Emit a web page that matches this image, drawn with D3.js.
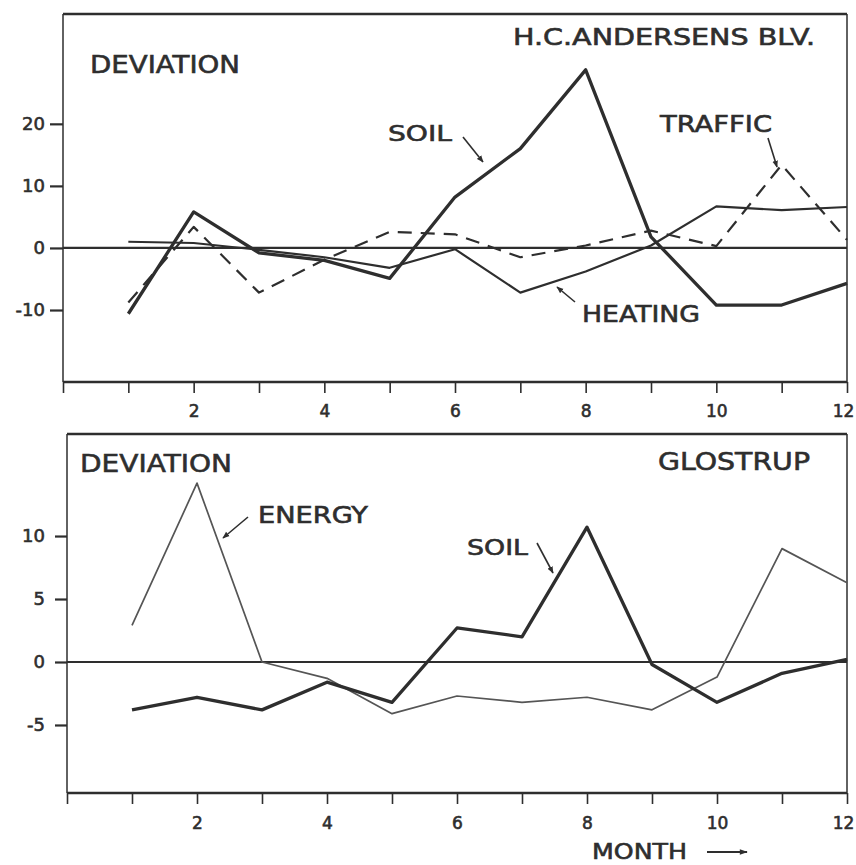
<!DOCTYPE html>
<html><head><meta charset="utf-8">
<script src="https://cdn.jsdelivr.net/npm/d3@7"></script>
<style>
body{margin:0;background:#fff;}
svg{display:block;}
text{font-family:"DejaVu Sans",sans-serif;fill:#2e2e2e;stroke:#2e2e2e;stroke-width:0.6;}
</style>
</head><body><svg id="c" width="856" height="865"></svg>
<script>
// ---- data ----
const months = [1,2,3,4,5,6,7,8,9,10,11,12];
const xTickValues = [0,1,2,3,4,5,6,7,8,9,10,11,12];
const xTickLabels = ["","","2","","4","","6","","8","","10","","12"];
const topYTicks = [-10,0,10,20];
const bottomYTicks = [-5,0,5,10];

// H.C. Andersens Blv.
const topSoil    = [-10.6, 5.8, -0.8, -2.0, -4.9, 8.2, 16.0, 28.7, 1.8, -9.2, -9.2, -5.7];
const topHeating = [1.0, 0.8, -0.3, -1.5, -3.2, -0.2, -7.2, -3.8, 0.4, 6.7, 6.1, 6.6];
const topTraffic = [-8.8, 3.4, -7.2, -1.9, 2.6, 2.2, -1.5, 0.4, 2.8, 0.3, 13.4, 1.3];

// Glostrup
const bottomEnergy = [2.9, 14.2, 0.0, -1.3, -4.1, -2.7, -3.2, -2.8, -3.8, -1.2, 9.0, 6.3];
const bottomSoil   = [-3.8, -2.8, -3.8, -1.6, -3.2, 2.7, 2.0, 10.7, -0.2, -3.2, -0.9, 0.2];

// ---- drawing ----
const svg = d3.select("#c");
const ink = "#2e2e2e";

const defs = svg.append("defs");
defs.append("marker").attr("id","ah").attr("viewBox","0 0 10 10")
  .attr("refX",9).attr("refY",5).attr("markerWidth",7).attr("markerHeight",7)
  .attr("orient","auto-start-reverse").attr("markerUnits","userSpaceOnUse")
  .append("path").attr("d","M0,1 L10,5 L0,9 Z").attr("fill",ink);
defs.append("marker").attr("id","ahBig").attr("viewBox","0 0 10 10")
  .attr("refX",9).attr("refY",5).attr("markerWidth",14).attr("markerHeight",8)
  .attr("orient","auto").attr("markerUnits","userSpaceOnUse")
  .append("path").attr("d","M0,1.5 L10,5 L0,8.5 Z").attr("fill",ink);

function panel(cfg){
  const x = d3.scaleLinear().domain([0,12]).range([cfg.x0,cfg.x1]);
  const y = d3.scaleLinear().domain(cfg.yDomain).range([cfg.y1,cfg.y0]);
  const g = svg.append("g");

  // frame
  g.append("line").attr("x1",cfg.x0).attr("x2",cfg.x1).attr("y1",cfg.y0).attr("y2",cfg.y0)
    .attr("stroke",ink).attr("stroke-width",2.6);
  g.append("line").attr("x1",cfg.x0).attr("x2",cfg.x1).attr("y1",cfg.y1).attr("y2",cfg.y1)
    .attr("stroke",ink).attr("stroke-width",2.6);
  g.append("line").attr("x1",cfg.x0).attr("x2",cfg.x0).attr("y1",cfg.y0).attr("y2",cfg.y1)
    .attr("stroke",ink).attr("stroke-width",1.5);
  g.append("line").attr("x1",cfg.x1).attr("x2",cfg.x1).attr("y1",cfg.y0).attr("y2",cfg.y1)
    .attr("stroke",ink).attr("stroke-width",1.5);

  // x axis
  const xa = g.append("g").attr("transform",`translate(0,${cfg.y1})`)
    .call(d3.axisBottom(x).tickValues(xTickValues).tickSize(11).tickPadding(cfg.xPad)
      .tickFormat((d,i)=>xTickLabels[i]));
  xa.select(".domain").remove();
  xa.selectAll(".tick line").attr("stroke",ink).attr("stroke-width",1.6);
  xa.selectAll(".tick text").attr("font-size",17).attr("fill",ink)
    .attr("font-family","DejaVu Sans, sans-serif")
    .attr("dx",(d)=> d===12 ? -4 : 0);

  // y axis
  const ya = g.append("g").attr("transform",`translate(${cfg.x0},0)`)
    .call(d3.axisLeft(y).tickValues(cfg.yTicks).tickSize(cfg.yTickSize).tickPadding(cfg.yPad)
      .tickFormat(d=> d<0 ? "-"+Math.abs(d) : String(d)));
  ya.select(".domain").remove();
  ya.selectAll(".tick line").attr("stroke",ink).attr("stroke-width",2.2);
  ya.selectAll(".tick text").attr("font-size",18).attr("fill",ink)
    .attr("font-family","DejaVu Sans, sans-serif");

  // zero line
  g.append("line").attr("x1",x(0)).attr("x2",x(12)).attr("y1",y(0)).attr("y2",y(0))
    .attr("stroke",ink).attr("stroke-width",2.2);

  const line = d3.line().x((d,i)=>x(months[i])).y(d=>y(d));
  cfg.series.forEach(s=>{
    g.append("path").datum(s.values).attr("d",line).attr("fill","none")
      .attr("stroke",s.color||ink).attr("stroke-width",s.width)
      .attr("stroke-dasharray",s.dash||null)
      .attr("stroke-linejoin","round").attr("stroke-linecap","butt");
  });
  return {g,x,y};
}

const topPanel = panel({x0:63,x1:847,y0:14,y1:382,yDomain:[-21.6,37.7],yTicks:topYTicks,
  yTickSize:13,yPad:5,xPad:12,
  series:[
    {values:topTraffic,width:2.2,dash:"14,9"},
    {values:topHeating,width:2.2},
    {values:topSoil,width:3.3}
  ]});

const bottomPanel = panel({x0:67,x1:847,y0:434,y1:793,yDomain:[-10.4,18.1],yTicks:bottomYTicks,
  yTickSize:12,yPad:10,xPad:13,
  series:[
    {values:bottomEnergy,width:1.7,color:"#555"},
    {values:bottomSoil,width:3.3}
  ]});

// labels
function label(t,x,yb,w,fs){
  svg.append("text").attr("x",x).attr("y",yb).attr("font-size",fs)
    .attr("textLength",w).attr("lengthAdjust","spacingAndGlyphs").text(t);
}
function arrow(x1,y1,x2,y2,big){
  svg.append("line").attr("x1",x1).attr("y1",y1).attr("x2",x2).attr("y2",y2)
    .attr("stroke",ink).attr("stroke-width",big?2.2:1.6)
    .attr("marker-end",big?"url(#ahBig)":"url(#ah)");
}

label("DEVIATION",90,73,150,24);
label("H.C.ANDERSENS BLV.",513,45,302,23);
label("SOIL",388,141,64,22);
arrow(463,137,483,162);
label("TRAFFIC",660,132,112,23);
arrow(768,138,777,167);
label("HEATING",582,322,118,23);
arrow(575,302,557,287);

label("DEVIATION",80,472,152,25);
label("GLOSTRUP",658,470,152,24);
label("ENERGY",258,523,110,23);
arrow(248,517,223,538);
label("SOIL",467,555,61,22);
arrow(537,543,553,573);
label("MONTH",592,859,95,21);
arrow(707,852,747,852,true);
</script>
</body></html>
